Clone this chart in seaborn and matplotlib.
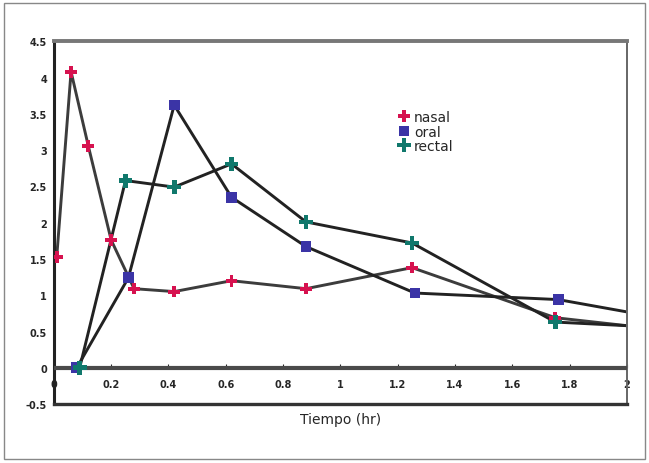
import pandas as pd
import numpy as np
import matplotlib
matplotlib.use('Agg')
import matplotlib.pyplot as plt
import seaborn as sns
from matplotlib.patches import Rectangle

# Values
nasal_t = [0.01, 0.06, 0.12, 0.20, 0.28, 0.42, 0.62, 0.88, 1.25, 1.75]
nasal_c = [1.53, 4.08, 3.06, 1.76, 1.09, 1.05, 1.20, 1.09, 1.38, 0.69]
oral_t = [0.08, 0.26, 0.42, 0.62, 0.88, 1.26, 1.76]
oral_c = [0.00, 1.24, 3.62, 2.35, 1.67, 1.03, 0.94]
rectal_t = [0.09, 0.25, 0.42, 0.62, 0.88, 1.25, 1.75]
rectal_c = [0.00, 2.58, 2.49, 2.81, 2.01, 1.72, 0.63]

# where each curve leaves the plot at the right edge (no marker there)
end_t = 2.0
end_c = {'nasal': 0.58, 'oral': 0.77, 'rectal': 0.58}

series = ['nasal', 'oral', 'rectal']
colors = {'nasal': '#d6124f', 'oral': '#3b34a6', 'rectal': '#10786c'}
line_colors = {'nasal': '#3c3c3c', 'oral': '#222222', 'rectal': '#222222'}
markers = {'nasal': 'P', 'oral': 's', 'rectal': 'P'}
sizes = {'nasal': 70, 'oral': 60, 'rectal': 100}

y_ticks = [-0.5, 0, 0.5, 1, 1.5, 2, 2.5, 3, 3.5, 4, 4.5]
x_ticks = [0, 0.2, 0.4, 0.6, 0.8, 1, 1.2, 1.4, 1.6, 1.8, 2]

pts = pd.concat([
    pd.DataFrame({'t': nasal_t, 'c': nasal_c, 'via': 'nasal'}),
    pd.DataFrame({'t': oral_t, 'c': oral_c, 'via': 'oral'}),
    pd.DataFrame({'t': rectal_t, 'c': rectal_c, 'via': 'rectal'}),
], ignore_index=True)
tails = pd.DataFrame({'t': [end_t] * 3, 'c': [end_c[s] for s in series], 'via': series})
lines = pd.concat([pts, tails], ignore_index=True).sort_values(['via', 't'])

sns.set_style('white')
plt.rcParams['font.family'] = ['DejaVu Sans']

fig, ax = plt.subplots(figsize=(6.49, 4.64), dpi=100)
fig.subplots_adjust(left=0.083, right=0.966, bottom=0.127, top=0.909)

sns.lineplot(data=lines, x='t', y='c', hue='via', palette=line_colors,
             estimator=None, sort=False, linewidth=2.1, legend=False, ax=ax)
sns.scatterplot(data=pts, x='t', y='c', hue='via', style='via',
                palette=colors, markers=markers, size='via', sizes=sizes,
                linewidth=0, zorder=5, ax=ax)

ax.set_xlim(0, 2)
ax.set_ylim(-0.5, 4.5)
# x axis sits on the zero line
ax.axhline(0, color='#4a4a4a', lw=3, zorder=3)

ax.set_yticks(y_ticks)
ax.set_yticklabels([f'{v:g}' for v in y_ticks], fontsize=7, fontweight='bold')
ax.set_xticks([])
ax.set_xlabel('Tiempo (hr)', fontsize=10, labelpad=6)
ax.set_ylabel('')
ax.tick_params(axis='y', direction='out', length=3, width=1, pad=2)

sec = ax.secondary_xaxis(0.1)
sec.set_xticks(x_ticks)
sec.set_xticklabels([f'{v:g}' for v in x_ticks], fontsize=7, fontweight='bold')
sec.tick_params(direction='in', length=3, pad=8)
sec.spines['bottom'].set_visible(False)

for side, c, w in [('left', '#222222', 2.2), ('bottom', '#333333', 2.4),
                   ('top', '#777777', 2.8), ('right', '#666666', 1.4)]:
    ax.spines[side].set_visible(True)
    ax.spines[side].set_color(c)
    ax.spines[side].set_linewidth(w)

handles, labels = ax.get_legend_handles_labels()
ax.legend(handles, labels, loc='upper left', bbox_to_anchor=(0.585, 0.83),
          frameon=False, fontsize=10, handletextpad=0.1, labelspacing=0.05,
          borderpad=0, handlelength=1.2)

fig.patches.append(Rectangle((0.006, 0.008), 0.988, 0.984, transform=fig.transFigure,
                             fill=False, edgecolor='#888888', linewidth=1))

fig.savefig('out.png', dpi=100)
